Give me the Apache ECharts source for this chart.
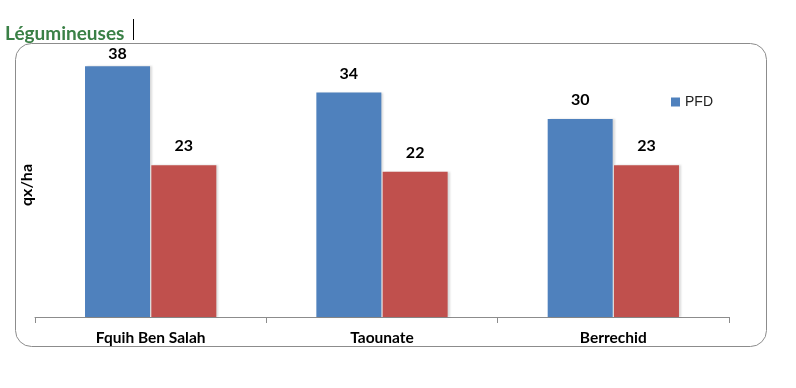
<!DOCTYPE html>
<html><head><meta charset="utf-8">
<script src="https://cdn.jsdelivr.net/npm/echarts@6/dist/echarts.min.js"></script>
<style>html,body{margin:0;padding:0;background:#fff}#c{width:796px;height:388px}</style>
</head><body><div id="c"></div>
<script>
const categories = ['Fquih Ben Salah', 'Taounate', 'Berrechid'];
const pfdValues = [38, 34, 30];
const otherValues = [23, 22, 23];
const titleText = 'Légumineuses';
const yAxisName = 'qx/ha';

const chart = echarts.init(document.getElementById('c'));
const font = 'Lato, "Open Sans", sans-serif';
const yMax = 40;
// labels near the plot top get pushed down (as in the original spreadsheet chart)
const withLabel = arr => arr.map(v => ({ value: v, label: { distance: v > 36 ? 4 : 11 } }));
const labelStyle = { show: true, position: 'top', fontSize: 16, fontWeight: 'bold', color: '#000', fontFamily: font };
chart.setOption({
  animation: false,
  textStyle: { fontFamily: font },
  title: {
    text: titleText, left: 0, top: 19,
    textStyle: { color: '#3a8046', fontSize: 19, fontWeight: 'bold', fontFamily: font }
  },
  graphic: [
    { type: 'rect', shape: { x: 15.5, y: 43.5, width: 751, height: 303, r: 16 },
      style: { fill: null, stroke: '#8c8c8c', lineWidth: 1 }, z: -1 },
    { type: 'line', shape: { x1: 133.5, y1: 19, x2: 133.5, y2: 40 },
      style: { stroke: '#000', lineWidth: 1 } }
  ],
  legend: {
    data: ['PFD'], left: 666, top: 90, itemWidth: 9, itemHeight: 9,
    icon: 'rect', itemGap: 5,
    textStyle: { fontSize: 14, color: '#222', fontFamily: '"Liberation Sans", Arial, sans-serif' }
  },
  grid: { left: 35, right: 67, top: 53, bottom: 71 },
  xAxis: {
    type: 'category', data: categories,
    axisLine: { lineStyle: { color: '#8c8c8c' } },
    axisTick: { show: true, length: 6, inside: false, lineStyle: { color: '#8c8c8c' } },
    axisLabel: { fontSize: 15.5, fontWeight: 'bold', color: '#000', margin: 13, fontFamily: font }
  },
  yAxis: {
    type: 'value', min: 0, max: yMax, interval: 10,
    axisLine: { show: false }, axisTick: { show: false }, axisLabel: { show: false },
    splitLine: { show: false },
    name: yAxisName, nameLocation: 'middle', nameGap: 0, nameRotate: 90,
    nameTextStyle: { fontSize: 16, fontWeight: 'bold', color: '#000', fontFamily: font }
  },
  series: [
    { name: 'PFD', type: 'bar', data: withLabel(pfdValues), barWidth: 65, barGap: '2%',
      itemStyle: { color: '#4f81bd', shadowColor: 'rgba(0,0,0,0.15)', shadowOffsetX: 2, shadowOffsetY: 0, shadowBlur: 2 },
      label: labelStyle },
    { name: 'Autre', type: 'bar', data: withLabel(otherValues), barWidth: 65,
      itemStyle: { color: '#c0504d', shadowColor: 'rgba(0,0,0,0.15)', shadowOffsetX: 2, shadowOffsetY: 0, shadowBlur: 2 },
      label: labelStyle }
  ]
});
</script></body></html>
